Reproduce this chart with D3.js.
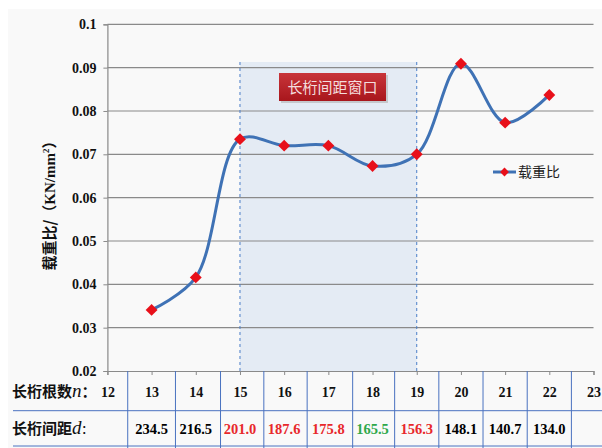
<!DOCTYPE html>
<html>
<head>
<meta charset="utf-8">
<script src="https://cdn.jsdelivr.net/npm/d3@7"></script>
<style>
  body { margin: 0; background: #fff; }
  svg { display: block; }
</style>
</head>
<body>
<svg id="chart" width="602" height="448"></svg>
<script>
// stringer count n, and load ratio values
const counts = [13, 14, 15, 16, 17, 18, 19, 20, 21, 22]
const ratio = [0.0341, 0.0416, 0.0735, 0.0720, 0.0720, 0.0673, 0.0700, 0.0909, 0.0773, 0.0837]
// stringer spacing d, one per count
const spacing = ["234.5", "216.5", "201.0", "187.6", "175.8", "165.5", "156.3", "148.1", "140.7", "134.0"]
const spacingColor = ["#000", "#000", "#e8282b", "#e8282b", "#e8282b", "#2ea84a", "#e8282b", "#000", "#000", "#000"]
const yTicks = [0.02, 0.03, 0.04, 0.05, 0.06, 0.07, 0.08, 0.09, 0.1]
const xTicks = d3.range(12, 24)
const windowRange = [15, 19]
const tableLines = [12.46, 13.54, 14.56, 15.54, 16.52, 17.55, 18.5, 19.5, 20.5, 21.5, 22.5]

const svg = d3.select('#chart')
const serif = '"Liberation Serif", "DejaVu Serif", serif'
const cjk = '"Noto Sans CJK SC", sans-serif'

svg.append('rect').attr('x', 8).attr('y', 9).attr('width', 594).attr('height', 439).attr('fill', '#f9f9f9')

const x = d3.scaleLinear().domain([12, 23]).range([107.4, 593.5])
const y = d3.scaleLinear().domain([0.02, 0.1]).range([371, 24.3])

// highlighted window
svg.append('rect')
    .attr('x', x(windowRange[0]))
    .attr('y', 62)
    .attr('width', x(windowRange[1]) - x(windowRange[0]))
    .attr('height', y(0.02) - 62)
    .attr('fill', '#e4ebf4')

// grid
svg.append('g').selectAll('line').data(yTicks.slice(1)).join('line')
    .attr('x1', x(12)).attr('x2', x(23))
    .attr('y1', d => y(d)).attr('y2', d => y(d))
    .attr('stroke', '#8a8a8a').attr('stroke-width', 1.2)

for (let v of windowRange) {
    svg.append('line')
        .attr('x1', x(v)).attr('x2', x(v))
        .attr('y1', 62).attr('y2', y(0.02))
        .attr('stroke', '#4a7ec8').attr('stroke-width', 1)
        .attr('stroke-dasharray', '3,3')
}

// y axis
const yAxis = svg.append('g')
    .attr('transform', `translate(${x(12)},0)`)
    .call(d3.axisLeft(y).tickValues(yTicks).tickSize(4).tickPadding(7).tickFormat(d => d3.format('')(+d.toFixed(2))))
yAxis.select('.domain').attr('stroke', '#8a8a8a').attr('stroke-width', 1.2)
yAxis.selectAll('.tick line').attr('stroke', '#8a8a8a')
yAxis.selectAll('text').attr('font-family', serif).attr('font-weight', 'bold').attr('font-size', 14).attr('fill', '#111')

// x axis
const xAxis = svg.append('g')
    .attr('transform', `translate(0,${y(0.02)})`)
    .call(d3.axisBottom(x).tickValues(xTicks).tickSize(4).tickPadding(12).tickFormat(d3.format('d')))
xAxis.select('.domain').attr('stroke', '#8a8a8a').attr('stroke-width', 1.2)
xAxis.selectAll('.tick line').attr('stroke', '#8a8a8a')
xAxis.selectAll('text').attr('font-family', serif).attr('font-weight', 'bold').attr('font-size', 14).attr('fill', '#111')

// table lines
svg.append('g').selectAll('line').data(tableLines).join('line')
    .attr('x1', d => x(d)).attr('x2', d => x(d))
    .attr('y1', y(0.02)).attr('y2', 448)
    .attr('stroke', '#4a72c0').attr('stroke-width', 1)
for (let ly of [410.7, 446]) {
    svg.append('line').attr('x1', 13).attr('x2', 602).attr('y1', ly).attr('y2', ly)
        .attr('stroke', '#4a72c0').attr('stroke-width', 1)
}

svg.append('g').selectAll('text').data(spacing).join('text')
    .attr('x', (d, i) => x(counts[i]))
    .attr('y', 434)
    .attr('text-anchor', 'middle')
    .attr('font-family', serif).attr('font-weight', 'bold').attr('font-size', 14.5)
    .attr('fill', (d, i) => spacingColor[i])
    .text(d => d)

const lab1 = svg.append('text').attr('x', 12).attr('y', 397).attr('font-size', 15).attr('font-weight', 'bold').attr('fill', '#111')
lab1.append('tspan').attr('font-family', cjk).text('长桁根数')
lab1.append('tspan').attr('font-family', serif).attr('font-style', 'italic').attr('font-weight', 'normal').attr('font-size', 19).text('n')
lab1.append('tspan').attr('font-family', cjk).text('：')
const lab2 = svg.append('text').attr('x', 12).attr('y', 434).attr('font-size', 15).attr('font-weight', 'bold').attr('fill', '#111')
lab2.append('tspan').attr('font-family', cjk).text('长桁间距')
lab2.append('tspan').attr('font-family', serif).attr('font-style', 'italic').attr('font-weight', 'normal').attr('font-size', 19).text('d')
lab2.append('tspan').attr('font-family', cjk).attr('font-size', 11).text('：')

// y title
const yt = svg.append('text')
    .attr('transform', 'translate(55,202) rotate(-90)')
    .attr('text-anchor', 'middle').attr('font-weight', 'bold').attr('font-size', 15).attr('fill', '#111')
yt.append('tspan').attr('font-family', cjk).text('载重比/（')
yt.append('tspan').attr('font-family', serif).text('KN/mm')
yt.append('tspan').attr('font-family', serif).attr('font-size', 9).attr('dy', -6).text('2')
yt.append('tspan').attr('font-family', cjk).attr('dy', 6).text('）')

// series
const pts = counts.map((c, i) => [c, ratio[i]])
const line = d3.line().x(d => x(d[0])).y(d => y(d[1])).curve(d3.curveCatmullRom.alpha(0.5))
svg.append('path').datum(pts)
    .attr('d', line)
    .attr('fill', 'none').attr('stroke', '#3f72b5').attr('stroke-width', 3)

const diamond = d3.symbol().type(d3.symbolDiamond2).size(90)
svg.append('g').selectAll('path').data(pts).join('path')
    .attr('transform', d => `translate(${x(d[0])},${y(d[1])})`)
    .attr('d', diamond)
    .attr('fill', '#e8101a')

// legend
svg.append('line').attr('x1', 493).attr('x2', 516).attr('y1', 172).attr('y2', 172)
    .attr('stroke', '#3f72b5').attr('stroke-width', 3)
svg.append('path').attr('transform', 'translate(504.5,172)').attr('d', d3.symbol().type(d3.symbolDiamond2).size(50)).attr('fill', '#e8101a')
svg.append('text').attr('x', 518).attr('y', 177).attr('font-family', cjk).attr('font-size', 14).attr('fill', '#222').text('载重比')

// window label
const defs = svg.append('defs')
const grad = defs.append('linearGradient').attr('id', 'redg').attr('x1', 0).attr('y1', 0).attr('x2', 0).attr('y2', 1)
grad.append('stop').attr('offset', '0%').attr('stop-color', '#c8353a')
grad.append('stop').attr('offset', '100%').attr('stop-color', '#a8161c')
svg.append('rect').attr('x', 281).attr('y', 75).attr('width', 107).attr('height', 28).attr('fill', '#b0b0b0').attr('opacity', 0.6)
svg.append('rect').attr('x', 279).attr('y', 73).attr('width', 107).attr('height', 28).attr('fill', 'url(#redg)')
svg.append('text').attr('x', 332.5).attr('y', 92.5).attr('text-anchor', 'middle')
    .attr('font-family', cjk).attr('font-size', 15).attr('fill', '#f4dede').text('长桁间距窗口')
</script>
</body>
</html>
